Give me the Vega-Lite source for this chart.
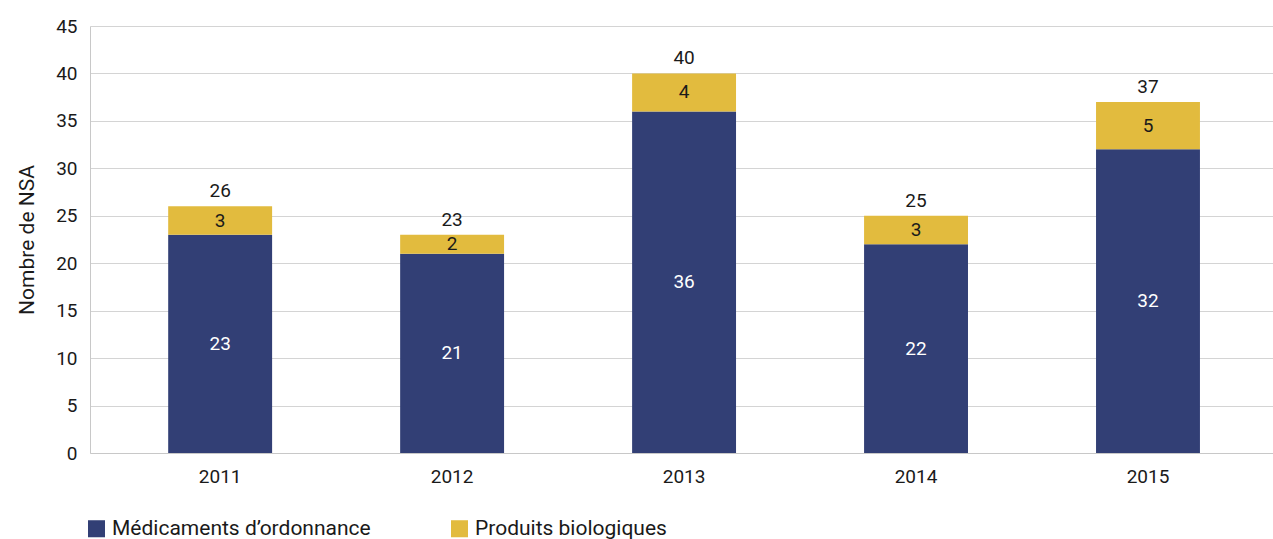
{
  "$schema": "https://vega.github.io/schema/vega-lite/v6.json",
  "width": 1183,
  "height": 427,
  "autosize": {"type": "none"},
  "padding": {"left": 90, "top": 26, "right": 0, "bottom": 86},
  "config": {"font": "Roboto", "view": {"stroke": null}},
  "data": {
    "values": [
      {"year": "2011", "type": "Médicaments d’ordonnance", "value": 23},
      {"year": "2011", "type": "Produits biologiques", "value": 3},
      {"year": "2012", "type": "Médicaments d’ordonnance", "value": 21},
      {"year": "2012", "type": "Produits biologiques", "value": 2},
      {"year": "2013", "type": "Médicaments d’ordonnance", "value": 36},
      {"year": "2013", "type": "Produits biologiques", "value": 4},
      {"year": "2014", "type": "Médicaments d’ordonnance", "value": 22},
      {"year": "2014", "type": "Produits biologiques", "value": 3},
      {"year": "2015", "type": "Médicaments d’ordonnance", "value": 32},
      {"year": "2015", "type": "Produits biologiques", "value": 5}
    ]
  },
  "transform": [
    {"stack": "value", "groupby": ["year"], "sort": [{"field": "type", "order": "ascending"}], "as": ["v0", "v1"]}
  ],
  "encoding": {
    "x": {
      "field": "year", "type": "ordinal",
      "scale": {"paddingInner": 0.552, "paddingOuter": 0.326, "align": 0.517},
      "axis": {"title": null, "labelAngle": 0, "ticks": false, "domainColor": "#c8c8c8", "labelFontSize": 19, "labelColor": "#1a1a1a", "labelPadding": 14}
    }
  },
  "layer": [
    {
      "mark": {"type": "bar"},
      "encoding": {
        "y": {
          "field": "v0", "type": "quantitative",
          "scale": {"domain": [0, 45], "nice": false},
          "axis": {"title": "Nombre de NSA", "values": [0,5,10,15,20,25,30,35,40,45], "grid": true, "gridColor": "#d4d4d4", "domainColor": "#c8c8c8", "ticks": false, "labelPadding": 13, "labelFontSize": 19, "labelColor": "#1a1a1a", "titleFontSize": 21, "titleFontWeight": "normal", "titleColor": "#1a1a1a", "titlePadding": 18}
        },
        "y2": {"field": "v1"},
        "color": {
          "field": "type", "type": "nominal",
          "scale": {"domain": ["Médicaments d’ordonnance", "Produits biologiques"], "range": ["#323F75", "#E2BB3E"]},
          "legend": {"title": null, "orient": "none", "legendX": -4, "legendY": 492, "direction": "horizontal", "symbolType": "square", "symbolSize": 290, "symbolStrokeWidth": 0, "symbolOpacity": 1, "labelFontSize": 21, "labelColor": "#1a1a1a", "labelOffset": 5, "columnPadding": 78, "labelLimit": 400}
        }
      }
    },
    {
      "transform": [{"fold": ["v0", "v1"], "as": ["k", "bound"]}],
      "mark": {"type": "text", "fontSize": 19},
      "encoding": {
        "y": {"aggregate": "mean", "field": "bound", "type": "quantitative"},
        "detail": {"field": "type", "type": "nominal"},
        "text": {"aggregate": "max", "field": "value", "type": "quantitative"},
        "color": {"condition": {"test": "datum.type === 'Produits biologiques'", "value": "#1a1a1a"}, "value": "#ffffff"}
      }
    },
    {
      "mark": {"type": "text", "fontSize": 19, "dy": -15, "color": "#1a1a1a"},
      "encoding": {
        "y": {"aggregate": "sum", "field": "value", "type": "quantitative"},
        "text": {"aggregate": "sum", "field": "value", "type": "quantitative"}
      }
    }
  ]
}
